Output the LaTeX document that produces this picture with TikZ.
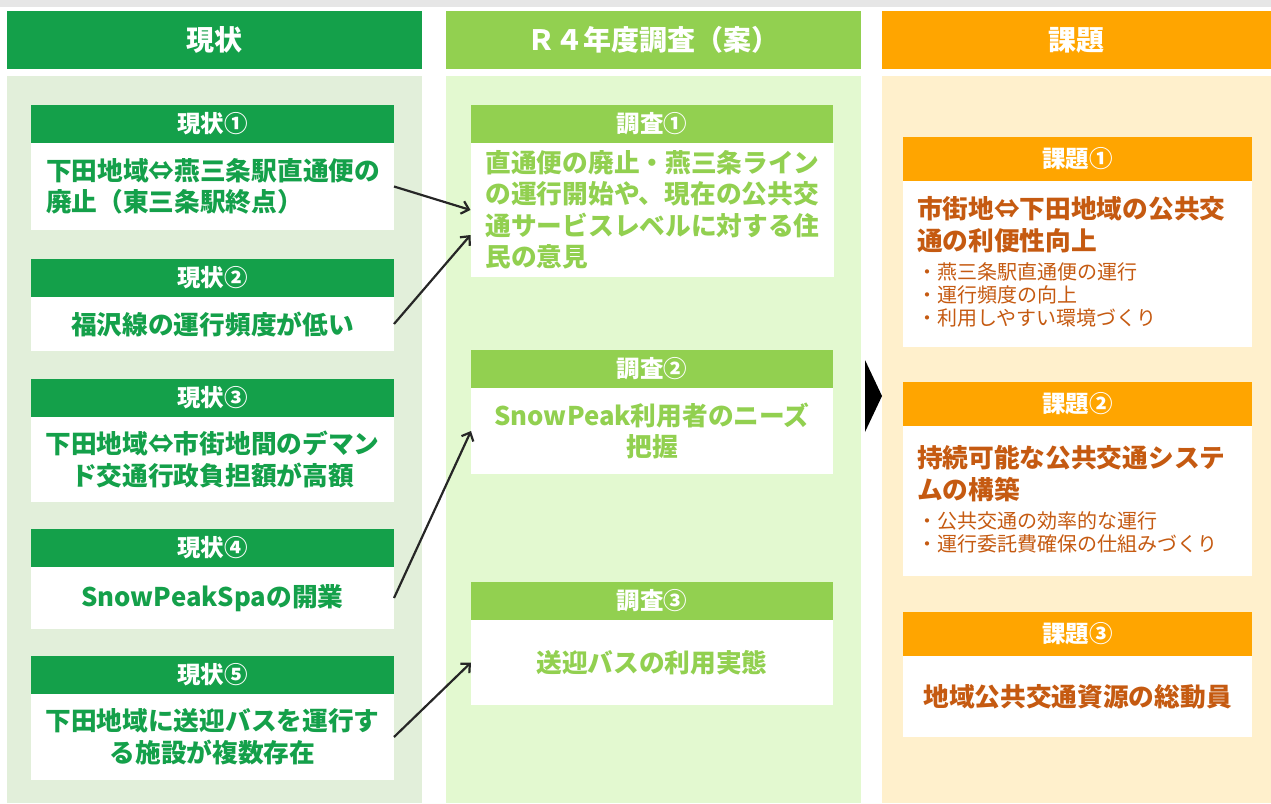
\documentclass[tikz,border=0pt]{standalone}
\usepackage{fontspec}
\newfontfamily\jp{Noto Sans CJK JP}
\usetikzlibrary{arrows.meta,calc}
\definecolor{dkg}{HTML}{14A04A}
\definecolor{ltg}{HTML}{92D050}
\definecolor{org}{HTML}{FFA500}
\definecolor{bgL}{HTML}{E2EFDA}
\definecolor{bgM}{HTML}{E3F9D0}
\definecolor{bgR}{HTML}{FFF0CC}
\definecolor{otx}{HTML}{C55A11}
\definecolor{topgray}{HTML}{E6E6E6}
\definecolor{arr}{HTML}{262626}
\newcommand\fcol{\jp\bfseries\fontsize{28}{32}\selectfont}
\newcommand\fhd{\jp\bfseries\fontsize{23.5}{28}\selectfont}
\newcommand\fbody{\jp\bfseries\fontsize{25.7}{31.5}\selectfont\lineskiplimit=-100pt}
\newcommand\fbul{\jp\mdseries\fontsize{20}{23}\selectfont\lineskiplimit=-100pt}
\begin{document}
\begin{tikzpicture}[x=1pt,y=-1pt,
  base/.style={inner sep=0pt, outer sep=0pt, anchor=center},
  colhdr/.style={base, text=white, font=\fcol, minimum height=58pt},
  hdrL/.style={base, fill=dkg, text=white, font=\fhd, minimum width=363pt, minimum height=38pt},
  hdrM/.style={base, fill=ltg, text=white, font=\fhd, minimum width=362pt, minimum height=38pt},
  hdrR/.style={base, fill=org, text=white, font=\fhd, minimum width=349pt, minimum height=44pt},
  bodyL/.style={base, fill=white, text=dkg, font=\fbody, minimum width=363pt, align=center},
  bodyM/.style={base, fill=white, text=ltg, font=\fbody, minimum width=362pt, align=center},
  bodyR/.style={base, fill=white, text=otx, font=\fbody, minimum width=349pt, align=center},
  leftL/.style={text width=333pt, inner xsep=15pt, align=left},
  ktext/.style={base, text=otx, font=\fbody, text width=321pt, align=left},
  conn/.style={draw=arr, line width=2.2pt, -{Straight Barb[length=7pt,width=13pt,line width=2.2pt]}}
]
\useasboundingbox (0,0) rectangle (1271,803);
\fill[topgray] (0,0) rectangle (1271,7);
% column headers
\node[colhdr, fill=dkg, minimum width=415pt] (h1) at (214.5,40) {現状};
\node[colhdr, fill=ltg, minimum width=415pt] (h2) at (653.5,40) {Ｒ４年度調査（案）};
\node[colhdr, fill=org, minimum width=389pt] (h3) at (1076.5,40) {課題};
% column bodies
\fill[bgL] (7,76) rectangle (422,803);
\fill[bgM] (446,76) rectangle (861,803);
\fill[bgR] (882,76) rectangle (1271,803);
% left column
\node[hdrL] (g1h) at (212.5,124) {現状①};
\node[bodyL, leftL, minimum height=87pt] (g1b) at (212.5,186.5) {下田地域⇔燕三条駅直通便の\\廃止（東三条駅終点）};
\node[hdrL] (g2h) at (212.5,278) {現状②};
\node[bodyL, minimum height=54pt] (g2b) at (212.5,324) {福沢線の運行頻度が低い};
\node[hdrL] (g3h) at (212.5,398) {現状③};
\node[bodyL, minimum height=85pt] (g3b) at (212.5,459.5) {下田地域⇔市街地間のデマン\\ド交通行政負担額が高額};
\node[hdrL] (g4h) at (212.5,548) {現状④};
\node[bodyL, minimum height=62pt] (g4b) at (212.5,598) {SnowPeakSpaの開業};
\node[hdrL] (g5h) at (212.5,675) {現状⑤};
\node[bodyL, minimum height=86pt] (g5b) at (212.5,737) {下田地域に送迎バスを運行す\\る施設が複数存在};
% middle column
\node[hdrM] (s1h) at (652,124) {調査①};
\node[bodyM, leftL, minimum height=134pt] (s1b) at (652,210) {直通便の廃止・燕三条ライン\\の運行開始や、現在の公共交\\通サービスレベルに対する住\\民の意見};
\node[hdrM] (s2h) at (652,369) {調査②};
\node[bodyM, minimum height=86pt] (s2b) at (652,431) {SnowPeak利用者のニーズ\\把握};
\node[hdrM] (s3h) at (652,601) {調査③};
\node[bodyM, minimum height=85pt] (s3b) at (652,662.5) {送迎バスの利用実態};
% right column
\node[hdrR] (k1h) at (1077.5,159) {課題①};
\node[bodyR, minimum height=166pt] (k1b) at (1077.5,264) {};
\node[ktext] (k1t) at ($(k1b.center)+(0,-2)$) {市街地⇔下田地域の公共交\\通の利便性向上\par\vskip6pt\fbul ・燕三条駅直通便の運行\\・運行頻度の向上\\・利用しやすい環境づくり\par};
\node[hdrR] (k2h) at (1077.5,404) {課題②};
\node[bodyR, minimum height=150pt] (k2b) at (1077.5,501) {};
\node[ktext] (k2t) at ($(k2b.center)+(0,-2)$) {持続可能な公共交通システ\\ムの構築\par\vskip6pt\fbul ・公共交通の効率的な運行\\・運行委託費確保の仕組みづくり\par};
\node[hdrR] (k3h) at (1077.5,634) {課題③};
\node[bodyR, minimum height=81pt] (k3b) at (1077.5,696.5) {地域公共交通資源の総動員};
% connectors
\draw[conn] (g1b.east) -- (s1b.west);
\draw[conn] (g2b.east) -- ($(s1b.west)+(0,25)$);
\draw[conn] (g4b.east) -- (s2b.west);
\draw[conn] (g5b.east) -- (s3b.west);
% big arrow head between columns
\fill[black] (865,360) -- (882,396) -- (865,432) -- cycle;
\end{tikzpicture}
\end{document}
